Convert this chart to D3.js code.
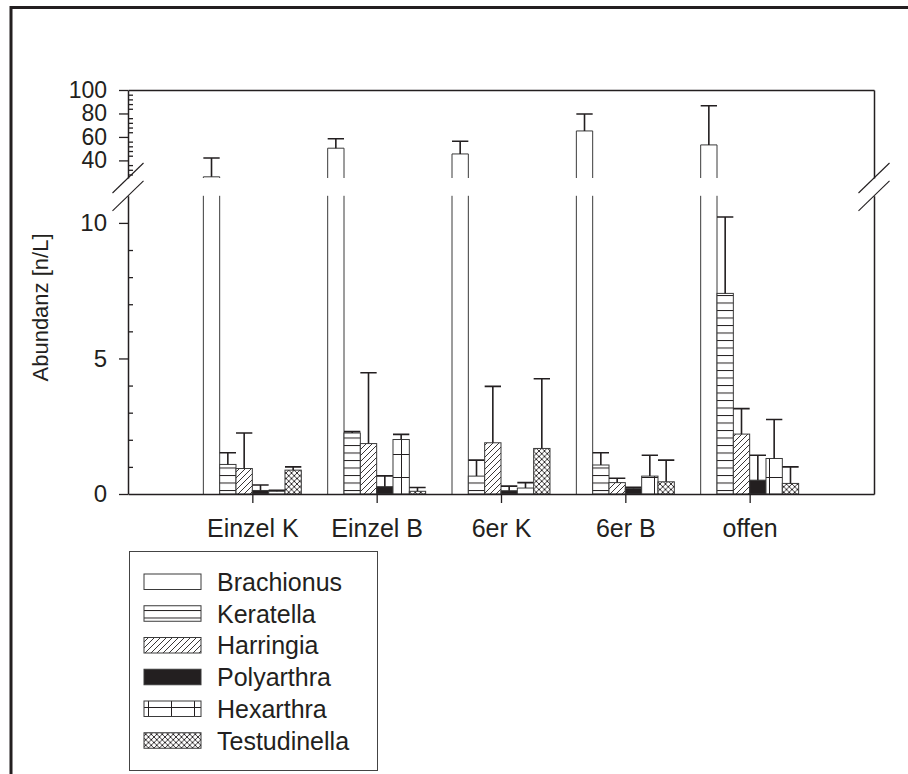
<!DOCTYPE html>
<html>
<head>
<meta charset="utf-8">
<script src="https://cdn.jsdelivr.net/npm/d3@7/dist/d3.min.js"></script>
<style>
  html, body { margin: 0; padding: 0; background: #fff; }
  svg { display: block; }
  text { font-family: "Liberation Sans", Arial, Helvetica, sans-serif; fill: #231f20; }
</style>
</head>
<body>
<svg id="chart" width="908" height="774"></svg>
<script>
// Rotifer abundance per enclosure type (mean and standard deviation, n/L)
const categories = ["Einzel K", "Einzel B", "6er K", "6er B", "offen"];
const species = ["Brachionus", "Keratella", "Harringia", "Polyarthra", "Hexarthra", "Testudinella"];

const brachionus     = [26.0, 50.4, 45.5, 65.1, 53.2];
const brachionusSD   = [16.0, 8.0, 10.8, 14.5, 33.4];
const keratella      = [1.09, 2.25, 0.66, 1.07, 7.40];
const keratellaSD    = [0.43, 0.05, 0.59, 0.45, 2.82];
const harringia      = [0.94, 1.86, 1.89, 0.42, 2.21];
const harringiaSD    = [1.31, 2.61, 2.08, 0.16, 0.94];
const polyarthra     = [0.13, 0.27, 0.12, 0.21, 0.51];
const polyarthraSD   = [0.20, 0.40, 0.17, 0.04, 0.92];
const hexarthra      = [0.10, 2.01, 0.22, 0.66, 1.31];
const hexarthraSD    = [0.04, 0.19, 0.20, 0.77, 1.44];
const testudinella   = [0.88, 0.10, 1.68, 0.45, 0.39];
const testudinellaSD = [0.12, 0.14, 2.57, 0.80, 0.61];

const lowerMajorTicks = [0, 5, 10];
const upperMajorTicks = [40, 60, 80, 100];

const means = [brachionus, keratella, harringia, polyarthra, hexarthra, testudinella];
const sds = [brachionusSD, keratellaSD, harringiaSD, polyarthraSD, hexarthraSD, testudinellaSD];

const svg = d3.select("#chart");
const ink = "#231f20";

// ---- fill patterns ----
const defs = svg.append("defs");
const kp = defs.append("pattern").attr("id", "p-keratella").attr("patternUnits", "userSpaceOnUse")
  .attr("x", 0).attr("y", 2.5).attr("width", 10).attr("height", 7.5);
kp.append("rect").attr("width", 10).attr("height", 7.5).attr("fill", "#fff");
kp.append("line").attr("x1", 0).attr("x2", 10).attr("y1", 0.5).attr("y2", 0.5).attr("stroke", ink).attr("stroke-width", 1);

const hp = defs.append("pattern").attr("id", "p-harringia").attr("patternUnits", "userSpaceOnUse")
  .attr("width", 6).attr("height", 6);
hp.append("rect").attr("width", 6).attr("height", 6).attr("fill", "#fff");
hp.append("path").attr("d", "M-1,1L1,-1M0,6L6,0M5,7L7,5").attr("stroke", ink).attr("stroke-width", 0.9);

const tp = defs.append("pattern").attr("id", "p-testudinella").attr("patternUnits", "userSpaceOnUse")
  .attr("width", 5.5).attr("height", 5.5);
tp.append("rect").attr("width", 5.5).attr("height", 5.5).attr("fill", "#fff");
tp.append("path").attr("d", "M-1,1L1,-1M0,5.5L5.5,0M4.5,6.5L6.5,4.5M-1,4.5L1,6.5M0,0L5.5,5.5M4.5,-1L6.5,1")
  .attr("stroke", ink).attr("stroke-width", 0.9);

const xp = defs.append("pattern").attr("id", "p-hexarthra").attr("patternUnits", "userSpaceOnUse")
  .attr("x", 10).attr("y", 17).attr("width", 23).attr("height", 23);
xp.append("rect").attr("width", 23).attr("height", 23).attr("fill", "#fff");
xp.append("path").attr("d", "M0.5,0V23M0,0.5H23").attr("stroke", ink).attr("stroke-width", 1);

const fills = ["#fff", "url(#p-keratella)", "url(#p-harringia)", ink, "url(#p-hexarthra)", "url(#p-testudinella)"];

// ---- outer frame ----
svg.append("rect").attr("x", 11).attr("y", 7.5).attr("width", 1000).attr("height", 1000)
  .attr("fill", "none").attr("stroke", ink).attr("stroke-width", 3);

// ---- scales ----
const left = 128, right = 874, base = 494;
const x = d3.scaleLinear().domain([0, categories.length + 1]).range([left, right]);
const step = x(1) - x(0);
const xi = d3.scaleBand().domain(species).range([-step * 0.394, step * 0.394]);
const yLow = d3.scaleLinear().domain([0, 11]).range([base, 195.8]);
const yHigh = d3.scaleLinear().domain([25, 100]).range([178, 90]);
const breakLow = yLow.domain()[1];
const breakHigh = yHigh.domain()[0];

// ---- bars ----
const gBars = svg.append("g");
const bw = xi.bandwidth();
species.forEach((sp, s) => {
  categories.forEach((cat, c) => {
    const v = means[s][c], sd = sds[s][c];
    const x0 = x(c + 1) + xi(sp), x1 = x0 + bw;
    if (v <= breakLow) {
      gBars.append("rect").attr("x", x0).attr("width", bw)
        .attr("y", yLow(v)).attr("height", base - yLow(v))
        .attr("fill", fills[s]).attr("stroke", "#3a3a3a").attr("stroke-width", 1);
      const top = yLow(v + sd);
      gBars.append("path").attr("d", `M${x0 + bw / 2},${yLow(v)}V${top}M${x0},${top}H${x1}`)
        .attr("fill", "none").attr("stroke", ink).attr("stroke-width", 1.6);
    } else {
      // bar split across the axis break: open sides in the lower panel, closed top above
      gBars.append("rect").attr("x", x0).attr("width", bw).attr("y", yLow(breakLow))
        .attr("height", base - yLow(breakLow)).attr("fill", fills[s]);
      gBars.append("path").attr("d", `M${x0},${yLow(breakLow)}V${base}M${x1},${yLow(breakLow)}V${base}`)
        .attr("fill", "none").attr("stroke", "#3a3a3a").attr("stroke-width", 1);
      gBars.append("path").attr("d", `M${x0},${yHigh(breakHigh)}V${yHigh(v)}H${x1}V${yHigh(breakHigh)}`)
        .attr("fill", fills[s]).attr("stroke", "#3a3a3a").attr("stroke-width", 1);
      const top = yHigh(v + sd);
      gBars.append("path").attr("d", `M${x0 + bw / 2},${yHigh(v)}V${top}M${x0},${top}H${x1}`)
        .attr("fill", "none").attr("stroke", ink).attr("stroke-width", 1.6);
    }
  });
});

// ---- axes ----
function styleAxis(g, size) {
  g.selectAll("path.domain").attr("stroke", ink).attr("stroke-width", 1.5);
  g.selectAll(".tick line").attr("stroke", ink).attr("stroke-width", 1.3);
  g.selectAll(".tick text").attr("font-size", size || 24).attr("fill", ink)
    .style("font-family", "'Liberation Sans', Arial, Helvetica, sans-serif");
}

const lowerMinor = d3.range(1, 11).filter(d => !lowerMajorTicks.includes(d));
const upperMinor = d3.range(28, 100, 4).filter(d => !upperMajorTicks.includes(d));

svg.append("g").attr("transform", `translate(${left},0)`)
  .call(d3.axisLeft(yLow).tickValues(lowerMajorTicks).tickSize(9).tickSizeOuter(0).tickPadding(12))
  .call(styleAxis, 24);
svg.append("g").attr("transform", `translate(${left},0)`)
  .call(d3.axisLeft(yHigh).tickValues(upperMajorTicks).tickSize(9).tickSizeOuter(0).tickPadding(12))
  .call(styleAxis, 23);
svg.append("g").attr("transform", `translate(${left},0)`)
  .call(d3.axisRight(yLow).tickValues(lowerMinor).tickSize(5).tickFormat(""))
  .call(styleAxis).call(g => g.select(".domain").remove());
svg.append("g").attr("transform", `translate(${left},0)`)
  .call(d3.axisRight(yHigh).tickValues(upperMinor).tickSize(5).tickFormat(""))
  .call(styleAxis).call(g => g.select(".domain").remove());

// right-hand frame, split at the break
svg.append("g").attr("transform", `translate(${right},0)`)
  .call(d3.axisRight(yLow).tickValues([]).tickSizeOuter(0)).call(styleAxis);
svg.append("g").attr("transform", `translate(${right},0)`)
  .call(d3.axisRight(yHigh).tickValues([]).tickSizeOuter(0)).call(styleAxis);
// top frame
svg.append("g").attr("transform", `translate(0,${yHigh(100)})`)
  .call(d3.axisTop(x).tickValues([]).tickSizeOuter(0)).call(styleAxis);

// category axis
svg.append("g").attr("transform", `translate(0,${base})`)
  .call(d3.axisBottom(x).tickValues(d3.range(1, categories.length + 1))
    .tickFormat(d => categories[d - 1]).tickSize(9).tickSizeOuter(0).tickPadding(16))
  .call(styleAxis, 25);

// break marks
[left, right].forEach(ax => {
  [yHigh(breakHigh), yLow(breakLow)].forEach(yy => {
    svg.append("line").attr("x1", ax - 15.5).attr("y1", yy + 15).attr("x2", ax + 15.5).attr("y2", yy - 15)
      .attr("stroke", ink).attr("stroke-width", 1.1);
  });
});

// y-axis title
svg.append("text").attr("transform", "translate(48,307.5) rotate(-90)")
  .attr("text-anchor", "middle").attr("font-size", 22).text("Abundanz [n/L]");

// ---- legend ----
const lg = svg.append("g");
lg.append("rect").attr("x", 129.5).attr("y", 551.5).attr("width", 248).attr("height", 219)
  .attr("fill", "#fff").attr("stroke", "#444").attr("stroke-width", 1);
species.forEach((sp, s) => {
  const yy = 574 + s * 31.75;
  lg.append("rect").attr("x", 144).attr("y", yy).attr("width", 57).attr("height", 15.5)
    .attr("fill", fills[s]).attr("stroke", "#3a3a3a").attr("stroke-width", 1);
  lg.append("text").attr("x", 217).attr("y", yy + 16.8).attr("font-size", 25).text(sp);
});
</script>
</body>
</html>
